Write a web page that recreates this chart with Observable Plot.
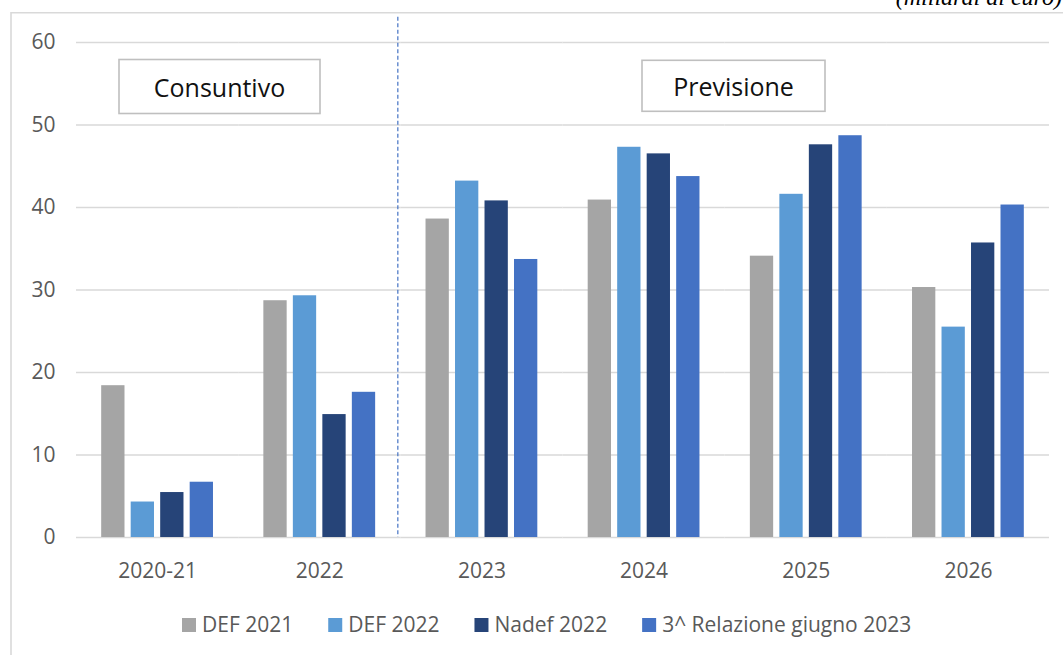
<!DOCTYPE html>
<html>
<head>
<meta charset="utf-8">
<script src="https://cdn.jsdelivr.net/npm/d3@7"></script>
<script src="https://cdn.jsdelivr.net/npm/@observablehq/plot@0.6"></script>
<style>
  html, body { margin: 0; padding: 0; background: #fff; }
  #chart { width: 1063px; height: 655px; overflow: hidden; }
</style>
</head>
<body>
<div id="chart"></div>
<script>
// ---- data ----
const categories = ["2020-21", "2022", "2023", "2024", "2025", "2026"];
const series = ["DEF 2021", "DEF 2022", "Nadef 2022", "3^ Relazione giugno 2023"];
const def2021 = [18.4, 28.7, 38.6, 40.9, 34.1, 30.3];
const def2022 = [4.3, 29.3, 43.2, 47.3, 41.6, 25.5];
const nadef2022 = [5.45, 14.9, 40.8, 46.5, 47.6, 35.7];
const relazione2023 = [6.7, 17.6, 33.7, 43.75, 48.7, 40.3];
const colors = ["#A5A5A5", "#5B9BD5", "#264478", "#4472C4"];
const yTicks = [0, 10, 20, 30, 40, 50, 60];
const unitLabel = "(miliardi di euro)";
const periodLabels = ["Consuntivo", "Previsione"];

const valuesBySeries = [def2021, def2022, nadef2022, relazione2023];
const data = categories.flatMap((c, i) =>
  series.map((s, j) => ({cat: c, series: s, value: valuesBySeries[j][i]}))
);

const FONT = "'Open Sans', sans-serif";
const W = 1063, H = 655;

const chart = Plot.plot({
  width: W,
  height: H,
  marginLeft: 76,
  marginRight: 14,
  marginTop: 42,
  marginBottom: 118,
  style: {fontFamily: FONT, background: "#fff", overflow: "visible"},
  fx: {domain: categories, padding: 0, round: false, label: null},
  x: {domain: series, paddingInner: 0.21, paddingOuter: 0.854, round: false, axis: null},
  y: {domain: [0, 60], label: null},
  color: {domain: series, range: colors},
  marks: [
    Plot.gridY(yTicks, {stroke: "#d9d9d9", strokeOpacity: 1, strokeWidth: 1.4}),
    Plot.axisY(yTicks, {tickSize: 0, tickPadding: 21, fontSize: 21, color: "#595959", label: null}),
    Plot.axisFx({anchor: "bottom", tickSize: 0, tickPadding: 26, fontSize: 21, color: "#595959", label: null}),
    Plot.barY(data, {fx: "cat", x: "series", y: "value", fill: "series"})
  ]
});

document.getElementById("chart").appendChild(chart);

// ---- annotations using the plot's scales ----
const svg = d3.select(chart);
const fxS = chart.scale("fx");
const yS = chart.scale("y");
const fxApply = v => fxS.apply ? fxS.apply(v) : (fxS.range[0] + categories.indexOf(v) * (fxS.range[1] - fxS.range[0]) / categories.length);
const yApply = v => yS.apply ? yS.apply(v) : (yS.range[0] + (v - yS.domain[0]) * (yS.range[1] - yS.range[0]) / (yS.domain[1] - yS.domain[0]));

const g = svg.append("g").attr("text-anchor", "start");

// outer chart frame (left & top)
g.append("path")
  .attr("d", `M11,${H} L11,12.7 L${W},12.7`)
  .attr("fill", "none").attr("stroke", "#d9d9d9").attr("stroke-width", 1.6);

// unit label (cut at top)
g.append("text")
  .attr("x", 1062).attr("y", 5)
  .attr("text-anchor", "end")
  .attr("font-family", "'Liberation Serif', serif")
  .attr("font-style", "italic")
  .attr("font-size", 24)
  .attr("fill", "#000")
  .text(unitLabel);

// dashed separator between actuals and forecast
const sepX = fxApply("2023") - 2.5;
g.append("line")
  .attr("x1", sepX).attr("x2", sepX)
  .attr("y1", 16.7).attr("y2", yApply(0))
  .attr("stroke", "#4472C4").attr("stroke-width", 1.2)
  .attr("stroke-dasharray", "4,2.5");

// period boxes
const boxes = [
  {label: periodLabels[0], x0: 119, x1: 320, y0: 59.5, y1: 113.5, ty: 97},
  {label: periodLabels[1], x0: 642, x1: 825, y0: 60.3, y1: 111.3, ty: 95.5}
];
for (const b of boxes) {
  g.append("rect")
    .attr("x", b.x0).attr("y", b.y0)
    .attr("width", b.x1 - b.x0).attr("height", b.y1 - b.y0)
    .attr("fill", "#fff").attr("stroke", "#bfbfbf").attr("stroke-width", 1.6);
  g.append("text")
    .attr("x", (b.x0 + b.x1) / 2).attr("y", b.ty)
    .attr("text-anchor", "middle")
    .attr("font-family", FONT).attr("font-size", 25).attr("fill", "#111")
    .text(b.label);
}

// legend
const lg = g.append("g").attr("font-family", FONT).attr("font-size", 21).attr("fill", "#595959").attr("text-anchor", "start");
let lx = 182;
series.forEach((s, i) => {
  lg.append("rect").attr("x", lx).attr("y", 618).attr("width", 14).attr("height", 14).attr("fill", colors[i]);
  const t = lg.append("text").attr("x", lx + 20).attr("y", 625).attr("dy", "0.35em").attr("text-anchor", "start").text(s);
  const w = t.node().getComputedTextLength();
  lx = lx + 20 + w + 35;
});
</script>
</body>
</html>
